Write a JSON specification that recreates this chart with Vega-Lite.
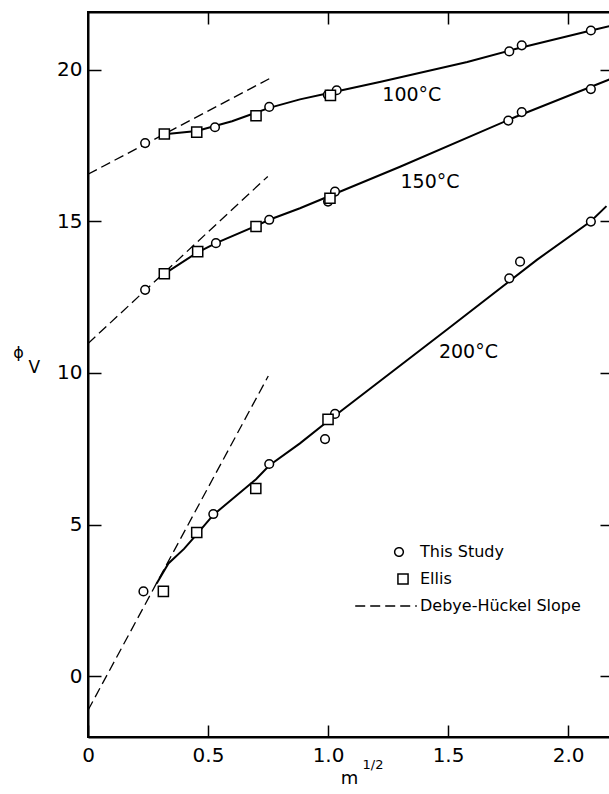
{
  "$schema": "https://vega.github.io/schema/vega-lite/v6.json",
  "width": 524,
  "height": 725,
  "autosize": {"type": "none"},
  "padding": {"left": 88, "top": 12, "right": 0, "bottom": 57},
  "background": "white",
  "config": {
    "view": {"stroke": "black", "strokeWidth": 2},
    "axis": {
      "grid": false,
      "domainColor": "black",
      "domainWidth": 2,
      "tickColor": "black",
      "tickWidth": 1.5,
      "labelFont": "DejaVu Sans",
      "labelFontSize": 20,
      "labelColor": "black",
      "titleFont": "DejaVu Sans",
      "titleColor": "black",
      "titleFontWeight": "normal"
    },
    "legend": {
      "labelFont": "DejaVu Sans",
      "labelFontSize": 16,
      "labelColor": "black",
      "labelOffset": 6,
      "labelLimit": 400,
      "rowPadding": 10,
      "symbolStrokeColor": "black",
      "symbolFillColor": "white",
      "symbolStrokeWidth": 1.5,
      "padding": 0
    }
  },
  "datasets": {
    "points": [
      {"series": "100", "kind": "This Study", "x": 0.238, "y": 17.58},
      {"series": "100", "kind": "This Study", "x": 0.529, "y": 18.1},
      {"series": "100", "kind": "This Study", "x": 0.755, "y": 18.77},
      {"series": "100", "kind": "This Study", "x": 0.999, "y": 19.17},
      {"series": "100", "kind": "This Study", "x": 1.036, "y": 19.32},
      {"series": "100", "kind": "This Study", "x": 1.755, "y": 20.6},
      {"series": "100", "kind": "This Study", "x": 1.807, "y": 20.8},
      {"series": "100", "kind": "This Study", "x": 2.095, "y": 21.29},
      {"series": "100", "kind": "Ellis", "x": 0.318, "y": 17.88},
      {"series": "100", "kind": "Ellis", "x": 0.453, "y": 17.94},
      {"series": "100", "kind": "Ellis", "x": 0.7, "y": 18.48},
      {"series": "100", "kind": "Ellis", "x": 1.01, "y": 19.15},
      {"series": "150", "kind": "This Study", "x": 0.238, "y": 12.74},
      {"series": "150", "kind": "This Study", "x": 0.533, "y": 14.28},
      {"series": "150", "kind": "This Study", "x": 0.755, "y": 15.05},
      {"series": "150", "kind": "This Study", "x": 1.0, "y": 15.65},
      {"series": "150", "kind": "This Study", "x": 1.029, "y": 15.98},
      {"series": "150", "kind": "This Study", "x": 1.751, "y": 18.32},
      {"series": "150", "kind": "This Study", "x": 1.807, "y": 18.6},
      {"series": "150", "kind": "This Study", "x": 2.095, "y": 19.36},
      {"series": "150", "kind": "Ellis", "x": 0.318, "y": 13.27},
      {"series": "150", "kind": "Ellis", "x": 0.457, "y": 14.0},
      {"series": "150", "kind": "Ellis", "x": 0.7, "y": 14.83},
      {"series": "150", "kind": "Ellis", "x": 1.008, "y": 15.76},
      {"series": "200", "kind": "This Study", "x": 0.231, "y": 2.8},
      {"series": "200", "kind": "This Study", "x": 0.522, "y": 5.35},
      {"series": "200", "kind": "This Study", "x": 0.755, "y": 7.0},
      {"series": "200", "kind": "This Study", "x": 0.9875, "y": 7.82},
      {"series": "200", "kind": "This Study", "x": 1.029, "y": 8.65},
      {"series": "200", "kind": "This Study", "x": 1.755, "y": 13.12},
      {"series": "200", "kind": "This Study", "x": 1.8, "y": 13.67},
      {"series": "200", "kind": "This Study", "x": 2.095, "y": 14.99},
      {"series": "200", "kind": "Ellis", "x": 0.314, "y": 2.8},
      {"series": "200", "kind": "Ellis", "x": 0.453, "y": 4.74},
      {"series": "200", "kind": "Ellis", "x": 0.699, "y": 6.19},
      {"series": "200", "kind": "Ellis", "x": 1.0, "y": 8.47}
    ],
    "fits": [
      {"series": "100", "x": 0.318, "y": 17.87},
      {"series": "100", "x": 0.453, "y": 17.98},
      {"series": "100", "x": 0.6, "y": 18.3},
      {"series": "100", "x": 0.755, "y": 18.74},
      {"series": "100", "x": 0.883, "y": 19.02},
      {"series": "100", "x": 1.0, "y": 19.22},
      {"series": "100", "x": 1.22, "y": 19.6},
      {"series": "100", "x": 1.58, "y": 20.25},
      {"series": "100", "x": 1.78, "y": 20.68},
      {"series": "100", "x": 2.1, "y": 21.3},
      {"series": "100", "x": 2.183, "y": 21.45},
      {"series": "150", "x": 0.318, "y": 13.27},
      {"series": "150", "x": 0.457, "y": 13.98},
      {"series": "150", "x": 0.533, "y": 14.28},
      {"series": "150", "x": 0.7, "y": 14.85},
      {"series": "150", "x": 0.755, "y": 15.05},
      {"series": "150", "x": 0.883, "y": 15.43},
      {"series": "150", "x": 1.3, "y": 16.8},
      {"series": "150", "x": 1.78, "y": 18.44},
      {"series": "150", "x": 2.183, "y": 19.71},
      {"series": "200", "x": 0.286, "y": 3.06},
      {"series": "200", "x": 0.335, "y": 3.72},
      {"series": "200", "x": 0.4, "y": 4.2},
      {"series": "200", "x": 0.453, "y": 4.68},
      {"series": "200", "x": 0.522, "y": 5.32},
      {"series": "200", "x": 0.7, "y": 6.5},
      {"series": "200", "x": 0.755, "y": 6.95},
      {"series": "200", "x": 0.883, "y": 7.68},
      {"series": "200", "x": 1.0, "y": 8.42},
      {"series": "200", "x": 1.5, "y": 11.46},
      {"series": "200", "x": 1.87, "y": 13.73},
      {"series": "200", "x": 2.095, "y": 15.0},
      {"series": "200", "x": 2.16, "y": 15.5}
    ],
    "dh": [
      {"series": "100", "kind": "Debye-Hückel Slope", "x": 0.0, "y": 16.55},
      {"series": "100", "kind": "Debye-Hückel Slope", "x": 0.755, "y": 19.7},
      {"series": "150", "kind": "Debye-Hückel Slope", "x": 0.0, "y": 10.97},
      {"series": "150", "kind": "Debye-Hückel Slope", "x": 0.749, "y": 16.48},
      {"series": "200", "kind": "Debye-Hückel Slope", "x": 0.0, "y": -1.12},
      {"series": "200", "kind": "Debye-Hückel Slope", "x": 0.751, "y": 9.9}
    ],
    "labels": [
      {"label": "100°C", "x": 1.349, "y": 19.15},
      {"label": "150°C", "x": 1.425, "y": 16.29},
      {"label": "200°C", "x": 1.585, "y": 10.68}
    ]
  },
  "layer": [
    {
      "data": {"name": "dh"},
      "mark": {"type": "line", "color": "black", "strokeWidth": 1.3, "clip": true},
      "encoding": {
        "x": {
          "field": "x", "type": "quantitative",
          "scale": {"domain": [0, 2.183], "nice": false, "zero": false},
          "axis": {
            "orient": "bottom",
            "values": [0, 0.5, 1, 1.5, 2],
            "labelExpr": "datum.value == 0 ? '0' : format(datum.value, '.1f')",
            "tickSize": -12,
            "labelPadding": 20,
            "labelFlush": false,
            "title": "m",
            "titleFontSize": 18,
            "titleAlign": "center",
            "titleBaseline": "alphabetic",
            "titleX": 261,
            "titleY": 46
          }
        },
        "y": {
          "field": "y", "type": "quantitative",
          "scale": {"domain": [-2, 21.9], "nice": false, "zero": false},
          "axis": {
            "orient": "left",
            "values": [0, 5, 10, 15, 20],
            "tickSize": -13,
            "labelPadding": 19,
            "labelFlush": false,
            "title": "ϕ",
            "titleFontSize": 16,
            "titleAngle": 0,
            "titleAlign": "center",
            "titleBaseline": "alphabetic",
            "titleX": -70,
            "titleY": 345
          }
        },
        "detail": {"field": "series"},
        "strokeDash": {
          "field": "kind", "type": "nominal",
          "scale": {"domain": ["This Study", "Ellis", "Debye-Hückel Slope"], "range": [[1, 0], [1, 0], [10, 5]]},
          "legend": {"title": null, "orient": "none", "legendX": 271, "legendY": 532,
            "encode": {
              "symbols": {"update": {
                "stroke": {"value": "black"}, "fill": {"value": "white"}, "strokeWidth": {"value": 1.5}, "opacity": {"value": 1},
                "x": {"signal": "datum.value === 'Debye-Hückel Slope' ? 27 : datum.value === 'Ellis' ? 44 : 40"}
              }},
              "labels": {"update": {"x": {"value": 61}}}
            }}
        }
      }
    },
    {
      "data": {"name": "fits"},
      "mark": {"type": "line", "color": "black", "strokeWidth": 2, "clip": true},
      "encoding": {
        "x": {
          "field": "x", "type": "quantitative",
          "axis": {"orient": "top", "values": [0.5, 1, 1.5, 2], "labels": false, "tickSize": -12, "title": null}
        },
        "y": {
          "field": "y", "type": "quantitative",
          "axis": {"orient": "right", "values": [0, 5, 10, 15, 20], "labels": false, "tickSize": -12, "title": null}
        },
        "detail": {"field": "series"}
      }
    },
    {
      "data": {"name": "points"},
      "mark": {"type": "point", "filled": true, "fill": "white", "stroke": "black", "strokeWidth": 1.5, "opacity": 1},
      "encoding": {
        "x": {"field": "x", "type": "quantitative",
          "axis": {"orient": "bottom", "labels": false, "ticks": false, "domain": false, "title": "1/2",
            "titleFontSize": 13, "titleAlign": "left", "titleBaseline": "alphabetic", "titleX": 274, "titleY": 31}},
        "y": {"field": "y", "type": "quantitative",
          "axis": {"orient": "left", "labels": false, "ticks": false, "domain": false, "title": "V",
            "titleFontSize": 17, "titleAngle": 0, "titleAlign": "left", "titleBaseline": "alphabetic", "titleX": -60, "titleY": 360}},
        "shape": {
          "field": "kind", "type": "nominal",
          "scale": {"domain": ["This Study", "Ellis", "Debye-Hückel Slope"], "range": ["circle", "square", "M-5.4,0H5.4"]},
          "legend": {"title": null, "orient": "none", "legendX": 271, "legendY": 532,
            "encode": {
              "symbols": {"update": {
                "stroke": {"value": "black"}, "fill": {"value": "white"}, "strokeWidth": {"value": 1.5}, "opacity": {"value": 1},
                "x": {"signal": "datum.value === 'Debye-Hückel Slope' ? 27 : datum.value === 'Ellis' ? 44 : 40"}
              }},
              "labels": {"update": {"x": {"value": 61}}}
            }}
        },
        "size": {
          "field": "kind", "type": "nominal",
          "scale": {"domain": ["This Study", "Ellis", "Debye-Hückel Slope"], "range": [75, 130, 100]},
          "legend": {"title": null, "orient": "none", "legendX": 271, "legendY": 532,
            "encode": {
              "symbols": {"update": {
                "stroke": {"value": "black"}, "fill": {"value": "white"}, "strokeWidth": {"value": 1.5}, "opacity": {"value": 1},
                "x": {"signal": "datum.value === 'Debye-Hückel Slope' ? 27 : datum.value === 'Ellis' ? 44 : 40"}
              }},
              "labels": {"update": {"x": {"value": 61}}}
            }}
        }
      }
    },
    {
      "data": {"name": "labels"},
      "mark": {"type": "text", "font": "DejaVu Sans", "fontSize": 19, "color": "black", "align": "center", "baseline": "middle"},
      "encoding": {
        "x": {"field": "x", "type": "quantitative", "axis": null},
        "y": {"field": "y", "type": "quantitative", "axis": null},
        "text": {"field": "label"}
      }
    }
  ],
  "resolve": {"axis": {"x": "independent", "y": "independent"}}
}
